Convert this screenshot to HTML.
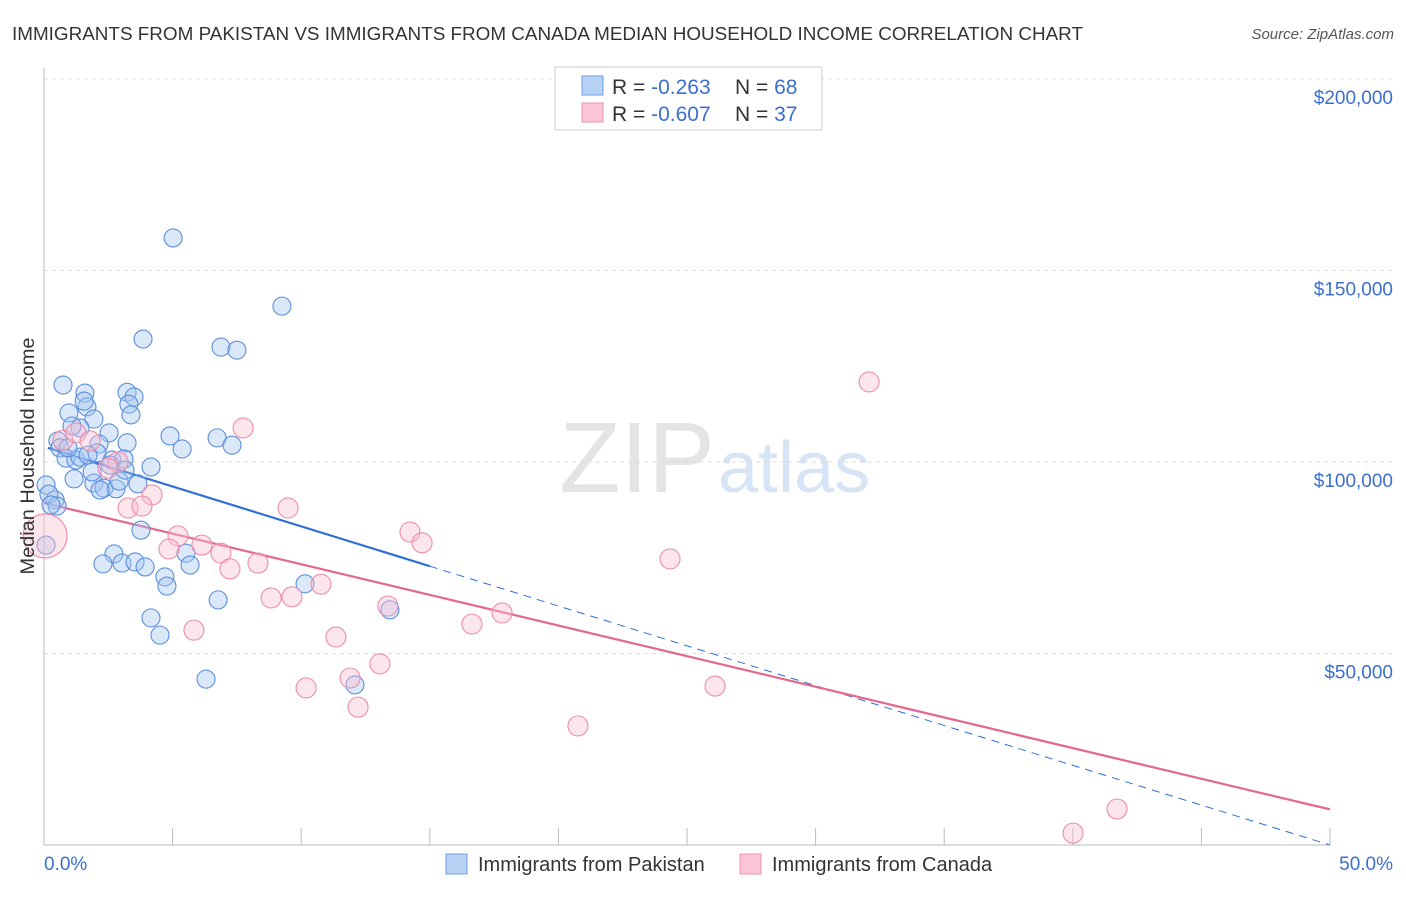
<!DOCTYPE html>
<html><head><meta charset="utf-8">
<style>
body{margin:0;background:#fff;font-family:"Liberation Sans",sans-serif;}
svg text{font-family:"Liberation Sans",sans-serif;}
</style></head><body>
<svg id="chart" width="1406" height="892" viewBox="0 0 1406 892">
<text x="12" y="40" font-size="18" fill="#333" textLength="1071" lengthAdjust="spacingAndGlyphs">IMMIGRANTS FROM PAKISTAN VS IMMIGRANTS FROM CANADA MEDIAN HOUSEHOLD INCOME CORRELATION CHART</text>
<text x="1394" y="39" font-size="15" fill="#555" font-style="italic" text-anchor="end">Source: ZipAtlas.com</text>
<text x="715" y="492" font-size="100" fill="#e4e4e4" text-anchor="end" font-family="Liberation Serif">ZIP</text>
<text x="718" y="492" font-size="72" fill="#d6e4f5">atlas</text>
<g id="grid"></g>
<g id="axes"></g>
<g id="lines"></g>
<g id="points"></g>
<text transform="translate(34,456) rotate(-90)" font-size="19" fill="#333" text-anchor="middle" textLength="237" lengthAdjust="spacingAndGlyphs">Median Household Income</text>
<g>
<rect x="555" y="67" width="267" height="63" fill="#fff" stroke="#ccc"/>
<rect x="582" y="76" width="21" height="19" fill="#b8d2f5" stroke="#6f9fe0"/>
<rect x="582" y="103" width="21" height="19" fill="#fcc5d5" stroke="#ea93ae"/>
<text x="612" y="94" font-size="21" fill="#333">R = <tspan fill="#3a6fd0">-0.263</tspan><tspan x="735">N = </tspan><tspan fill="#3a6fd0">68</tspan></text>
<text x="612" y="121" font-size="21" fill="#333">R = <tspan fill="#3a6fd0">-0.607</tspan><tspan x="735">N = </tspan><tspan fill="#3a6fd0">37</tspan></text>
</g>
<g>
<rect x="446" y="854" width="21" height="20" fill="#b8d2f5" stroke="#6f9fe0"/>
<text x="478" y="871" font-size="20" fill="#333">Immigrants from Pakistan</text>
<rect x="740" y="854" width="21" height="20" fill="#fcc5d5" stroke="#ea93ae"/>
<text x="772" y="871" font-size="20" fill="#333">Immigrants from Canada</text>
</g>
</svg>
<script>
const yTicks=[50000,100000,150000,200000];
const yTickLabels=["$50,000","$100,000","$150,000","$200,000"];
const xTickLabels=["0.0%","50.0%"];
const pakX=[5.02,9.25,3.85,6.88,7.50,0.74,1.59,3.23,3.50,1.67,0.97,3.30,3.38,1.94,1.40,1.09,4.90,6.73,2.53,0.54,7.31,5.37,0.62,2.14,3.23,0.86,1.24,1.40,2.64,3.11,2.06,4.16,0.08,1.17,1.94,2.33,2.80,2.92,3.65,0.43,0.19,0.51,3.77,0.08,2.72,2.29,3.03,3.54,3.93,5.52,5.68,4.70,4.78,10.15,6.77,4.16,13.45,4.51,6.30,12.09,2.57,1.71,0.27,0.93,1.87,2.18,3.15,1.56];
const pakY=[158.5,140.7,132.1,130.0,129.2,120.1,118.0,118.2,117.0,114.4,112.8,115.1,112.3,111.2,108.9,109.4,106.8,106.3,107.6,105.5,104.4,103.4,103.7,104.7,105.0,101.0,100.5,101.3,100.5,100.8,102.4,98.7,94.0,95.6,94.5,93.2,93.0,95.0,94.3,90.1,91.6,88.5,82.2,78.3,76.0,73.4,73.6,73.9,72.6,76.2,73.1,70.0,67.6,68.2,64.0,59.3,61.4,54.8,43.3,41.8,99.2,101.8,88.8,103.7,97.4,92.7,97.9,115.9];
const canX=[0.74,1.24,1.79,2.88,2.49,4.20,3.27,3.81,5.21,4.86,6.14,6.88,7.23,8.32,9.49,8.83,9.64,10.77,13.37,14.23,14.70,11.35,11.90,10.19,12.21,13.06,16.64,17.81,20.76,24.34,26.09,32.08,41.72,40.01,7.74,5.83,0.04];
const canY=[105.7,107.6,105.5,100.0,98.4,91.4,88.0,88.5,80.7,77.3,78.3,76.2,72.1,73.6,88.0,64.5,64.8,68.1,62.4,81.7,78.9,54.3,43.6,41.0,36.0,47.3,57.7,60.6,31.1,74.7,41.5,120.9,9.4,3.1,108.9,56.1,80.7];
const canR=[10,10,10,10,10,10,10,10,10,10,10,10,10,10,10,10,10,10,10,10,10,10,10,10,10,10,10,10,10,10,10,10,10,10,10,10,22];
const pakTrend=[104.0,-2.08];
const canTrend=[89.3,-1.60];
const pakSolidEnd=15;
const X=p=>44+p/50*1286;
const Y=k=>845-k*3.83;
const NS="http://www.w3.org/2000/svg";
function mk(parent,tag,attrs){const e=document.createElementNS(NS,tag);for(const k in attrs)e.setAttribute(k,attrs[k]);document.getElementById(parent).appendChild(e);return e;}
yTicks.forEach((v,i)=>{
  const g=mk('grid','line',{x1:44,x2:1394,y1:Y(v/1000),y2:Y(v/1000),stroke:'#ddd','stroke-dasharray':'4,4'});
  
  
  const t=mk('axes','text',{x:1393,y:Y(v/1000)+25,'font-size':19,fill:'#3a6fd0','text-anchor':'end'});
  t.textContent=yTickLabels[i];
  
  
});
const ya=mk('axes','line',{x1:44,x2:44,y1:68,y2:845,stroke:'#bbb'});


const xa=mk('axes','line',{x1:44,x2:1330,y1:845,y2:845,stroke:'#bbb'});


for(let i=1;i<=10;i++){const tk=mk('axes','line',{x1:X(i*5),x2:X(i*5),y1:828,y2:845,stroke:'#bbb'});

}
[[0,44,'start'],[50,1393,'end']].forEach((a,i)=>{const t=mk('axes','text',{x:a[1],y:870,'font-size':19,fill:'#3a6fd0','text-anchor':a[2]});t.textContent=xTickLabels[i];

});
pakX.forEach((x,i)=>{const c=mk('points','circle',{cx:X(x),cy:Y(pakY[i]),r:9,fill:'rgba(165,198,242,0.4)',stroke:'#5b8fdc','stroke-width':1.1});

});
canX.forEach((x,i)=>{const c=mk('points','circle',{cx:X(x),cy:Y(canY[i]),r:canR[i],fill:'rgba(250,190,208,0.4)',stroke:'#eb8eab','stroke-width':1.1});

});
const f=(t,p)=>t[0]+t[1]*p;
const l1=mk('lines','line',{x1:X(0.15),y1:Y(f(pakTrend,0.15)),x2:X(pakSolidEnd),y2:Y(f(pakTrend,pakSolidEnd)),stroke:'#2f6fd6','stroke-width':2.2});


const l2=mk('lines','line',{x1:X(pakSolidEnd),y1:Y(f(pakTrend,pakSolidEnd)),x2:X(50),y2:Y(f(pakTrend,50)),stroke:'#2f6fd6','stroke-width':1,'stroke-dasharray':'8,6'});


const l3=mk('lines','line',{x1:X(0),y1:Y(f(canTrend,0)),x2:X(50),y2:Y(f(canTrend,50)),stroke:'#e4678f','stroke-width':2.2});


</script>
</body></html>
